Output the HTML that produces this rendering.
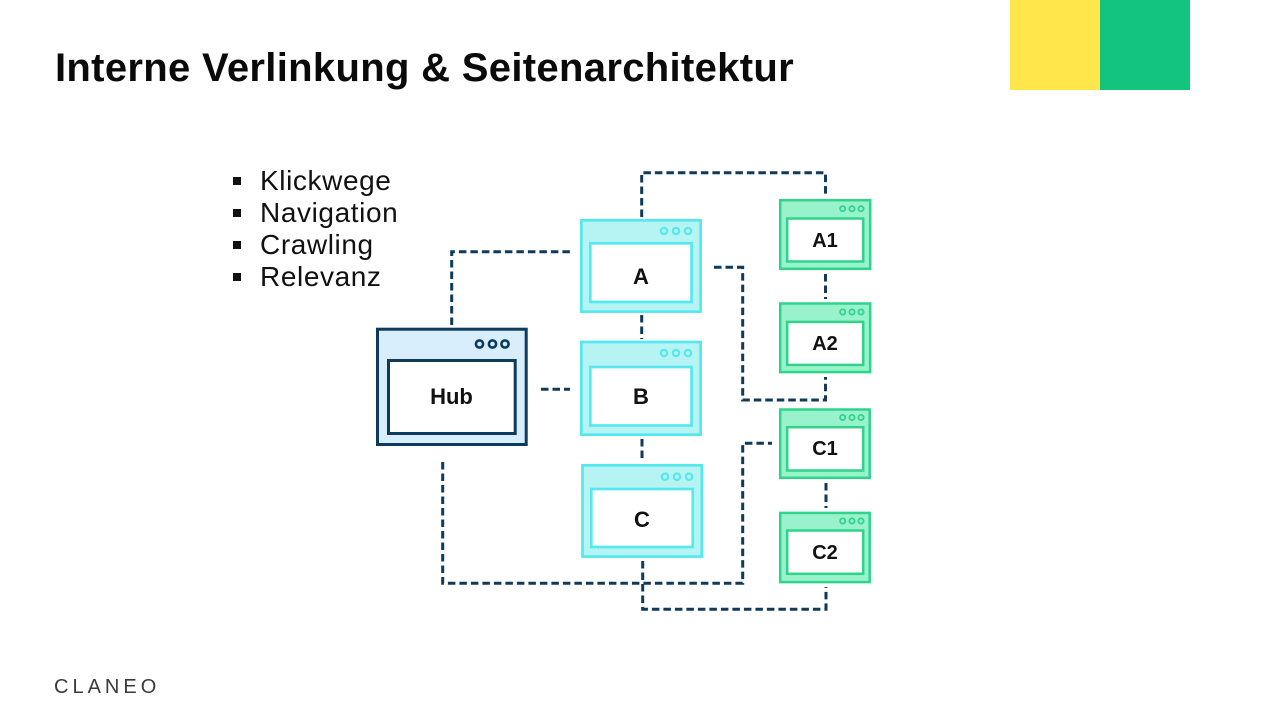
<!DOCTYPE html>
<html>
<head>
<meta charset="utf-8">
<style>
  html, body { margin:0; padding:0; }
  body { width:1280px; height:720px; position:relative; overflow:hidden; background:#ffffff; font-family:"Liberation Sans", sans-serif; }
  .title { position:absolute; left:55px; top:48px; font-size:40px; line-height:40px; font-weight:bold; color:#0a0a0a; white-space:nowrap; letter-spacing:0.32px; }
  .yellow { position:absolute; left:1010px; top:0; width:90px; height:90px; background:#fee64b; }
  .green { position:absolute; left:1100px; top:0; width:90px; height:90px; background:#12c47e; }
  .bullets { position:absolute; left:260px; top:165px; font-size:28px; line-height:32px; color:#111; letter-spacing:0.6px; }
  .bullets div { position:relative; white-space:nowrap; }
  .bullets div::before { content:""; position:absolute; left:-27px; top:12px; width:8px; height:8px; background:#111; }
  .logo { position:absolute; left:54px; top:676px; font-size:20px; line-height:22px; letter-spacing:4px; color:#3a3a3a; }
  svg { position:absolute; left:0; top:0; }
</style>
</head>
<body>
<div class="title">Interne Verlinkung &amp; Seitenarchitektur</div>
<div class="yellow"></div>
<div class="green"></div>

<div class="bullets">
  <div>Klickwege</div>
  <div>Navigation</div>
  <div>Crawling</div>
  <div>Relevanz</div>
</div>

<svg width="1280" height="720" viewBox="0 0 1280 720" xmlns="http://www.w3.org/2000/svg">
  <!-- connectors -->
  <g fill="none" stroke="#0f3a5a" stroke-width="3" stroke-dasharray="7.5 4">
    <path d="M641.7,217 V172.7 H825.5 V197"/>
    <path d="M451.7,325 V251.7 H573"/>
    <path d="M641.7,315 V339"/>
    <path d="M541,389.3 H570"/>
    <path d="M642,439 V462"/>
    <path d="M825.5,274 V299"/>
    <path d="M714,267.3 H742.7 V400 H825.5 V377"/>
    <path d="M442.7,462 V583.3 H742.7 V443.3 H772"/>
    <path d="M642.7,561 V609.3 H826 V587"/>
    <path d="M826,483 V508"/>
  </g>

  <!-- Hub -->
  <g>
    <rect x="377.5" y="329.2" width="148.7" height="115.3" fill="#d8eefc" stroke="#0e3a5c" stroke-width="3"/>
    <rect x="388.5" y="360.5" width="126.7" height="73" fill="#ffffff" stroke="#0e3a5c" stroke-width="3"/>
    <circle cx="479.5" cy="344" r="3.6" fill="none" stroke="#0e3a5c" stroke-width="2.6"/>
    <circle cx="492.5" cy="344" r="3.6" fill="none" stroke="#0e3a5c" stroke-width="2.6"/>
    <circle cx="505" cy="344" r="3.6" fill="none" stroke="#0e3a5c" stroke-width="2.6"/>
    <text x="451.5" y="404" text-anchor="middle" font-family="Liberation Sans, sans-serif" font-weight="bold" font-size="22" fill="#111">Hub</text>
  </g>

  <!-- Cyan boxes -->
  <g fill="#b6f4f4" stroke="#55e8ee" stroke-width="2.7">
    <rect x="581.3" y="220.3" width="119.3" height="91.3"/>
    <rect x="581.3" y="342" width="119.3" height="92.7"/>
    <rect x="582.5" y="465.3" width="119.3" height="91.3"/>
  </g>
  <g fill="#ffffff" stroke="#55e8ee" stroke-width="2.7">
    <rect x="590.3" y="243.3" width="101.3" height="58.7"/>
    <rect x="590.3" y="367" width="101.3" height="58.5"/>
    <rect x="591.3" y="489" width="101.5" height="58"/>
  </g>
  <g fill="none" stroke="#55e8ee" stroke-width="2.2">
    <circle cx="664" cy="231" r="3.2"/><circle cx="676" cy="231" r="3.2"/><circle cx="688" cy="231" r="3.2"/>
    <circle cx="664" cy="353" r="3.2"/><circle cx="676" cy="353" r="3.2"/><circle cx="688" cy="353" r="3.2"/>
    <circle cx="665" cy="476.7" r="3.2"/><circle cx="677" cy="476.7" r="3.2"/><circle cx="689" cy="476.7" r="3.2"/>
  </g>
  <g font-family="Liberation Sans, sans-serif" font-weight="bold" font-size="22" fill="#111" text-anchor="middle">
    <text x="641" y="284">A</text>
    <text x="641" y="404">B</text>
    <text x="642" y="527">C</text>
  </g>

  <!-- Green boxes -->
  <g fill="#98f2cc" stroke="#2fd38a" stroke-width="2.5">
    <rect x="780.2" y="200.2" width="90" height="68.6"/>
    <rect x="780.2" y="303.5" width="90" height="68.6"/>
    <rect x="780.2" y="409.5" width="89.5" height="68.3"/>
    <rect x="780.2" y="512.9" width="89.5" height="69.2"/>
  </g>
  <g fill="#ffffff" stroke="#2fd38a" stroke-width="2.5">
    <rect x="787.2" y="218.5" width="76" height="43"/>
    <rect x="787.2" y="321.9" width="76" height="43"/>
    <rect x="787.2" y="427.2" width="76" height="43.3"/>
    <rect x="787.2" y="530.5" width="76" height="43.3"/>
  </g>
  <g fill="none" stroke="#2fd38a" stroke-width="1.8">
    <circle cx="842.7" cy="208.7" r="2.6"/><circle cx="852" cy="208.7" r="2.6"/><circle cx="861" cy="208.7" r="2.6"/>
    <circle cx="842.7" cy="312" r="2.6"/><circle cx="852" cy="312" r="2.6"/><circle cx="861" cy="312" r="2.6"/>
    <circle cx="842.7" cy="417.5" r="2.6"/><circle cx="852" cy="417.5" r="2.6"/><circle cx="861" cy="417.5" r="2.6"/>
    <circle cx="842.7" cy="521" r="2.6"/><circle cx="852" cy="521" r="2.6"/><circle cx="861" cy="521" r="2.6"/>
  </g>
  <g font-family="Liberation Sans, sans-serif" font-weight="bold" font-size="20" fill="#111" text-anchor="middle">
    <text x="825" y="247">A1</text>
    <text x="825" y="350">A2</text>
    <text x="825" y="455">C1</text>
    <text x="825" y="559">C2</text>
  </g>
</svg>

<div class="logo">CLANEO</div>
</body>
</html>
